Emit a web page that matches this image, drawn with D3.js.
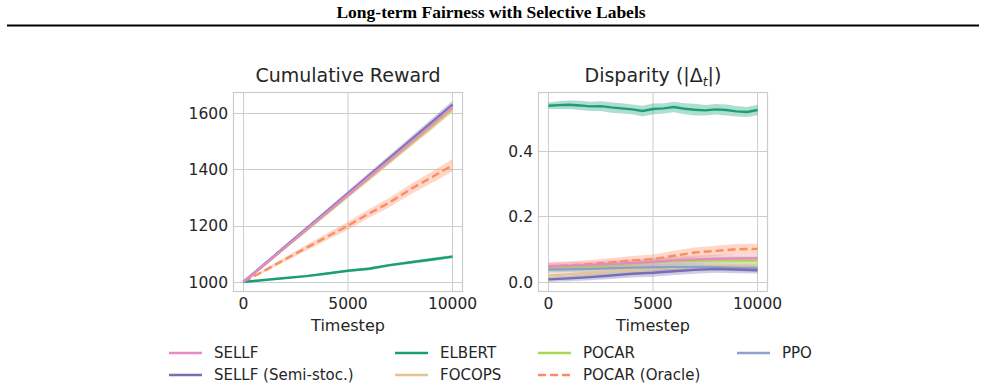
<!DOCTYPE html>
<html>
<head>
<meta charset="utf-8">
<script src="https://cdn.jsdelivr.net/npm/d3@7"></script>
<style>
  body { margin: 0; background: #fff; }
  svg text { font-family: "DejaVu Sans", sans-serif; fill: #262626; }
</style>
</head>
<body>
<div id="canvas"></div>
<script>
// ---- DATA ----
var steps = [0, 1000, 2000, 3000, 4000, 5000, 6000, 7000, 8000, 9000, 10000];
var stepsFine = [0, 500, 1000, 1500, 2000, 2500, 3000, 3500, 4000, 4500, 5000,
                 5500, 6000, 6500, 7000, 7500, 8000, 8500, 9000, 9500, 10000];

var methods = ['SELLF', 'SELLF (Semi-stoc.)', 'ELBERT', 'FOCOPS', 'POCAR', 'POCAR (Oracle)', 'PPO'];
var colors = ['#e78ac3', '#7570b3', '#1b9e77', '#e5c494', '#a6d854', '#fc8d62', '#8da0cb'];
var dashed = [false, false, false, false, false, true, false];

// cumulative reward (mean, spread)
var rewardSELLF  = [1000, 1062, 1124, 1186, 1248, 1310, 1372, 1434, 1496, 1558, 1622];
var rewardSemi   = [1000, 1063, 1126, 1189, 1252, 1315, 1378, 1441, 1504, 1567, 1630];
var rewardELBERT = [1000, 1007, 1014, 1021, 1030, 1040, 1047, 1060, 1070, 1080, 1090];
var rewardFOCOPS = [1000, 1061, 1122, 1183, 1244, 1305, 1366, 1427, 1488, 1549, 1612];
var rewardPOCAR  = [1000, 1062, 1123, 1185, 1246, 1308, 1370, 1431, 1493, 1555, 1618];
var rewardOracle = [1000, 1040, 1081, 1121, 1161, 1200, 1243, 1283, 1330, 1372, 1415];
var rewardPPO    = [1000, 1062, 1125, 1187, 1250, 1312, 1375, 1437, 1500, 1562, 1626];

var rewardSpreadSELLF  = [0, 3, 4, 5, 6, 6, 7, 7, 8, 8, 9];
var rewardSpreadSemi   = [0, 4, 6, 7, 8, 9, 10, 11, 12, 13, 14];
var rewardSpreadELBERT = [0, 2, 3, 3, 4, 4, 5, 5, 5, 6, 6];
var rewardSpreadFOCOPS = [0, 3, 4, 5, 6, 7, 7, 8, 8, 9, 10];
var rewardSpreadPOCAR  = [0, 3, 4, 5, 6, 6, 7, 7, 8, 8, 9];
var rewardSpreadOracle = [0, 5, 8, 10, 12, 14, 15, 17, 18, 20, 22];
var rewardSpreadPPO    = [0, 3, 4, 5, 6, 6, 7, 7, 8, 8, 9];

// disparity |Delta_t| (mean, spread)
var dispSELLF  = [0.048, 0.050, 0.052, 0.055, 0.058, 0.062, 0.066, 0.069, 0.071, 0.072, 0.073];
var dispSemi   = [0.008, 0.011, 0.015, 0.020, 0.025, 0.028, 0.033, 0.037, 0.040, 0.038, 0.036];
var dispELBERT = [0.538, 0.540, 0.541, 0.539, 0.536, 0.537, 0.533, 0.530, 0.527, 0.522, 0.528,
                  0.530, 0.534, 0.529, 0.526, 0.524, 0.527, 0.525, 0.521, 0.519, 0.525];
var dispFOCOPS = [0.020, 0.024, 0.028, 0.032, 0.036, 0.040, 0.043, 0.046, 0.048, 0.049, 0.050];
var dispPOCAR  = [0.040, 0.043, 0.046, 0.050, 0.055, 0.060, 0.063, 0.065, 0.066, 0.066, 0.066];
var dispOracle = [0.048, 0.051, 0.055, 0.060, 0.066, 0.070, 0.080, 0.090, 0.095, 0.100, 0.101];
var dispPPO    = [0.038, 0.039, 0.040, 0.042, 0.044, 0.045, 0.046, 0.046, 0.045, 0.044, 0.043];

var dispSpreadSELLF  = [0.010, 0.010, 0.010, 0.011, 0.011, 0.012, 0.012, 0.012, 0.012, 0.012, 0.012];
var dispSpreadSemi   = [0.008, 0.009, 0.010, 0.011, 0.011, 0.012, 0.012, 0.012, 0.012, 0.011, 0.010];
var dispSpreadELBERT = [0.010, 0.012, 0.013, 0.014, 0.014, 0.015, 0.016, 0.016, 0.015, 0.016, 0.017,
                        0.016, 0.016, 0.017, 0.018, 0.016, 0.016, 0.017, 0.016, 0.015, 0.016];
var dispSpreadFOCOPS = [0.010, 0.010, 0.011, 0.011, 0.012, 0.012, 0.012, 0.012, 0.012, 0.012, 0.012];
var dispSpreadPOCAR  = [0.010, 0.010, 0.010, 0.011, 0.011, 0.011, 0.012, 0.012, 0.012, 0.012, 0.012];
var dispSpreadOracle = [0.012, 0.012, 0.012, 0.013, 0.013, 0.014, 0.015, 0.015, 0.016, 0.016, 0.016];
var dispSpreadPPO    = [0.009, 0.009, 0.010, 0.010, 0.010, 0.011, 0.011, 0.011, 0.011, 0.011, 0.011];

var rewardTicks = [1000, 1200, 1400, 1600];
var dispTicks = [0.0, 0.2, 0.4];
var stepTicks = [0, 5000, 10000];

var rewardSeries = [rewardSELLF, rewardSemi, rewardELBERT, rewardFOCOPS, rewardPOCAR, rewardOracle, rewardPPO];
var rewardSpreads = [rewardSpreadSELLF, rewardSpreadSemi, rewardSpreadELBERT, rewardSpreadFOCOPS, rewardSpreadPOCAR, rewardSpreadOracle, rewardSpreadPPO];
var dispSeries = [dispSELLF, dispSemi, dispELBERT, dispFOCOPS, dispPOCAR, dispOracle, dispPPO];
var dispSpreads = [dispSpreadSELLF, dispSpreadSemi, dispSpreadELBERT, dispSpreadFOCOPS, dispSpreadPOCAR, dispSpreadOracle, dispSpreadPPO];

// drawing order (last on top)
var drawOrder = [5, 2, 3, 4, 6, 1, 0];

// ---- CONVENTIONS ----
var W = 985, H = 390;
var svg = d3.select('#canvas').append('svg')
    .attr('width', W)
    .attr('height', H);

// page header
svg.append('text')
    .attr('x', 491).attr('y', 18)
    .attr('text-anchor', 'middle')
    .style('font-family', '"Liberation Serif", "Times New Roman", serif')
    .style('font-weight', 'bold')
    .style('font-size', '17.5px')
    .style('fill', '#000')
    .text('Long-term Fairness with Selective Labels');
svg.append('line')
    .attr('x1', 7).attr('x2', 979)
    .attr('y1', 25.5).attr('y2', 25.5)
    .style('stroke', '#000')
    .style('stroke-width', 2);

function panel(opts) {
    var x = d3.scaleLinear().domain([-500, 10500]).range([opts.left, opts.left + 230]);
    var y = d3.scaleLinear().domain(opts.yDomain).range([291, 92]);
    var g = svg.append('g');

    // grid
    g.selectAll('.gx').data(stepTicks).enter().append('line')
        .attr('x1', function(d){ return x(d); }).attr('x2', function(d){ return x(d); })
        .attr('y1', 92).attr('y2', 291)
        .style('stroke', '#cccccc').style('stroke-width', 1);
    g.selectAll('.gy').data(opts.yTicks).enter().append('line')
        .attr('x1', opts.left).attr('x2', opts.left + 230)
        .attr('y1', function(d){ return Math.round(y(d)) + 0.5; })
        .attr('y2', function(d){ return Math.round(y(d)) + 0.5; })
        .style('stroke', '#cccccc').style('stroke-width', 1);

    // frame
    g.append('rect')
        .attr('x', opts.left + 0.5).attr('y', 92.5)
        .attr('width', 229).attr('height', 199)
        .style('fill', 'none').style('stroke', '#cccccc').style('stroke-width', 1.2);

    // tick labels
    g.selectAll('.tx').data(stepTicks).enter().append('text')
        .attr('x', function(d){ return x(d); }).attr('y', 309)
        .attr('text-anchor', 'middle')
        .style('font-size', '15.5px')
        .text(function(d){ return d; });
    g.selectAll('.ty').data(opts.yTicks).enter().append('text')
        .attr('x', opts.left - 5).attr('y', function(d){ return y(d); })
        .attr('dy', '0.36em')
        .attr('text-anchor', 'end')
        .style('font-size', '15.5px')
        .text(opts.fmt);

    g.append('text')
        .attr('x', opts.left + 115).attr('y', 331)
        .attr('text-anchor', 'middle')
        .style('font-size', '16px')
        .text('Timestep');

    var clip = 'clip' + opts.left;
    g.append('clipPath').attr('id', clip).append('rect')
        .attr('x', opts.left).attr('y', 92).attr('width', 230).attr('height', 199);
    var plot = g.append('g').attr('clip-path', 'url(#' + clip + ')');

    drawOrder.forEach(function(i){
        var xs = opts.stepsFor(i);
        var pts = xs.map(function(s, k){ return {s: s, m: opts.series[i][k], e: opts.spreads[i][k]}; });
        var area = d3.area()
            .x(function(d){ return x(d.s); })
            .y0(function(d){ return y(d.m - d.e); })
            .y1(function(d){ return y(d.m + d.e); });
        plot.append('path')
            .datum(pts)
            .attr('d', area)
            .style('fill', colors[i])
            .style('fill-opacity', 0.35);
    });
    drawOrder.forEach(function(i){
        var xs = opts.stepsFor(i);
        var pts = xs.map(function(s, k){ return {s: s, m: opts.series[i][k]}; });
        var line = d3.line()
            .x(function(d){ return x(d.s); })
            .y(function(d){ return y(d.m); });
        plot.append('path')
            .datum(pts)
            .attr('d', line)
            .style('fill', 'none')
            .style('stroke', colors[i])
            .style('stroke-width', 2.4)
            .style('stroke-dasharray', dashed[i] ? '8,4' : null);
    });

    return g;
}

var left = panel({
    left: 233,
    yDomain: [968, 1675],
    yTicks: rewardTicks,
    fmt: function(d){ return d; },
    series: rewardSeries,
    spreads: rewardSpreads,
    stepsFor: function(){ return steps; }
});
left.append('text')
    .attr('x', 348).attr('y', 82)
    .attr('text-anchor', 'middle')
    .style('font-size', '19px')
    .text('Cumulative Reward');

var right = panel({
    left: 538,
    yDomain: [-0.0275, 0.58],
    yTicks: dispTicks,
    fmt: function(d){ return d.toFixed(1); },
    series: dispSeries,
    spreads: dispSpreads,
    stepsFor: function(i){ return i === 2 ? stepsFine : steps; }
});
var dt = right.append('text')
    .attr('x', 653).attr('y', 82)
    .attr('text-anchor', 'middle')
    .style('font-size', '19px');
dt.append('tspan').text('Disparity (|Δ');
dt.append('tspan').attr('dy', 4).style('font-size', '12.5px').style('font-style', 'italic').text('t');
dt.append('tspan').attr('dy', -4).text('|)');

// ---- LEGEND ----
var legendPos = [
    {x: 169, y: 353}, {x: 169, y: 375},
    {x: 395, y: 353}, {x: 395, y: 375},
    {x: 538, y: 353}, {x: 538, y: 375},
    {x: 737, y: 353}
];
var legend = svg.append('g').selectAll('g').data(methods).enter().append('g')
    .attr('transform', function(d, i){ return 'translate(' + legendPos[i].x + ',' + legendPos[i].y + ')'; });
legend.append('line')
    .attr('x1', 0).attr('x2', 33)
    .style('stroke', function(d, i){ return colors[i]; })
    .style('stroke-width', 2.6)
    .style('stroke-dasharray', function(d, i){ return dashed[i] ? '8,4' : null; });
legend.append('text')
    .attr('x', 45).attr('dy', '0.36em')
    .style('font-size', '15px')
    .text(function(d){ return d; });
</script>
</body>
</html>
